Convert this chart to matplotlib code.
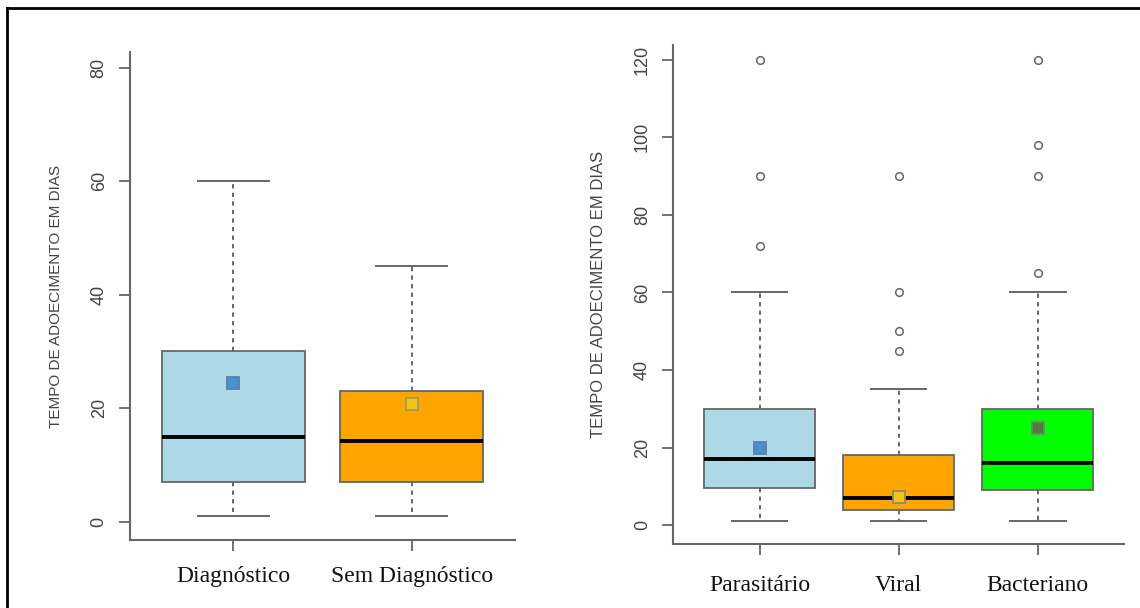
import matplotlib.pyplot as plt
from matplotlib.lines import Line2D

# painel esquerdo: com / sem diagnostico
grupos_a = ['Diagnóstico', 'Sem Diagnóstico']
min_a = [1, 1]
q1_a = [7, 7]
med_a = [15, 14.2]
q3_a = [30, 23]
max_a = [60, 45]
outl_a = [[], []]
media_a = [24.5, 20.8]

# painel direito: tipo de agente
grupos_b = ['Parasitário', 'Viral', 'Bacteriano']
min_b = [1, 1, 1]
q1_b = [9.5, 4, 9]
med_b = [17, 7, 16]
q3_b = [30, 18, 30]
max_b = [60, 35, 60]
outl_b = [[72, 90, 120], [45, 50, 60, 90], [65, 90, 98, 120]]
media_b = [20, 7.2, 25]

yticks_a = [0, 20, 40, 60, 80]
yticks_b = [0, 20, 40, 60, 80, 100, 120]

cor_caixa = {'Diagnóstico': '#add8e6', 'Sem Diagnóstico': '#ffa500',
             'Parasitário': '#add8e6', 'Viral': '#ffa500', 'Bacteriano': '#00ff00'}
cor_media = {'Diagnóstico': ('#4a8fd4', '#5a7fa8'), 'Sem Diagnóstico': ('#f2c414', '#a09a60'),
             'Parasitário': ('#4a8fd4', '#5a7fa8'), 'Viral': ('#f2c414', '#8a8a70'),
             'Bacteriano': ('#4e7d3a', '#6f8a6a')}

CINZA = '#666666'
ROTULO = 'TEMPO DE ADOECIMENTO EM DIAS'


def painel(ax, nomes, lo, q1, med, q3, hi, outs, medias, yticks, ylim, xlim, ysize, xpad):
    stats = []
    for i in range(len(nomes)):
        stats.append(dict(label=nomes[i], whislo=lo[i], q1=q1[i], med=med[i],
                          q3=q3[i], whishi=hi[i], fliers=outs[i]))
    pos = list(range(1, len(nomes) + 1))
    bp = ax.bxp(stats, positions=pos, widths=0.8, patch_artist=True,
                boxprops=dict(edgecolor=CINZA, linewidth=1.3),
                medianprops=dict(color='black', linewidth=2.8, solid_capstyle='butt'),
                whiskerprops=dict(color=CINZA, linewidth=1.4, linestyle=(0, (2.2, 2.2))),
                capprops=dict(color=CINZA, linewidth=1.4),
                capwidths=0.4,
                flierprops=dict(marker='o', markerfacecolor='none',
                                markeredgecolor=CINZA, markersize=5.5, markeredgewidth=1.1))
    for patch, n in zip(bp['boxes'], nomes):
        patch.set_facecolor(cor_caixa[n])
    for p, m, n in zip(pos, medias, nomes):
        fc, ec = cor_media[n]
        ax.plot(p, m, marker='s', ms=8, mfc=fc, mec=ec, mew=1.3, zorder=5)

    ax.set_xlim(*xlim)
    ax.set_ylim(*ylim)
    ax.set_yticks(yticks)
    ax.set_yticklabels([str(t) for t in yticks], rotation=90, va='center',
                       fontsize=13, color='#444444', family='Liberation Sans')
    ax.set_xticks(pos)
    ax.set_xticklabels(nomes, fontsize=17, family='Liberation Serif', color='#111111')
    ax.tick_params(axis='y', length=8, width=1.3, color=CINZA, pad=8)
    ax.tick_params(axis='x', length=8, width=1.3, color=CINZA, pad=xpad)
    for s in ['top', 'right']:
        ax.spines[s].set_visible(False)
    for s in ['left', 'bottom']:
        ax.spines[s].set_color(CINZA)
        ax.spines[s].set_linewidth(1.5)
    ax.set_ylabel(ROTULO, fontsize=ysize, family='Liberation Sans',
                  color='#444444', labelpad=20)


fig = plt.figure(figsize=(11.4, 6.08), dpi=100)
ax1 = fig.add_axes([0.114, 0.112, 0.338, 0.802])
ax2 = fig.add_axes([0.5906, 0.105, 0.3954, 0.821])

painel(ax1, grupos_a, min_a, q1_a, med_a, q3_a, max_a, outl_a, media_a,
       yticks_a, (-3.2, 82.7), (0.42, 2.58), 11, 11)
painel(ax2, grupos_b, min_b, q1_b, med_b, q3_b, max_b, outl_b, media_b,
       yticks_b, (-4.9, 123.8), (0.38, 3.62), 12, 14)

# moldura preta da figura
x0 = 7 / 1140
y0 = 1 - 8 / 608
fig.add_artist(Line2D([x0, x0], [0, y0], transform=fig.transFigure, color='black', lw=2))
fig.add_artist(Line2D([x0, 1], [y0, y0], transform=fig.transFigure, color='black', lw=2))

fig.savefig('out.png', dpi=100)
